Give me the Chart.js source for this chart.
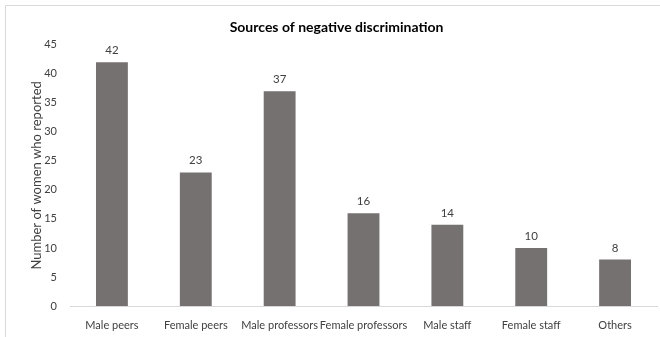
<!DOCTYPE html>
<html>
<head>
<meta charset="utf-8">
<script src="https://cdn.jsdelivr.net/npm/chart.js@4/dist/chart.umd.min.js"></script>
<style>
  html, body { margin: 0; padding: 0; background: #fff; }
  #wrap { position: relative; width: 660px; height: 337px; }
</style>
</head>
<body>
<div id="wrap"><canvas id="c" width="660" height="337"></canvas></div>
<script>
const categories = ["Male peers", "Female peers", "Male professors", "Female professors", "Male staff", "Female staff", "Others"];
const counts = [42, 23, 37, 16, 14, 10, 8];
const yTicks = [0, 5, 10, 15, 20, 25, 30, 35, 40, 45];

const FONT = "Lato, 'Open Sans', sans-serif";

// value labels drawn above each bar, plus the thin frame around the figure
const extras = {
  id: 'extras',
  afterDatasetsDraw(chart) {
    const ctx = chart.ctx;
    const meta = chart.getDatasetMeta(0);
    ctx.save();
    ctx.fillStyle = '#404040';
    ctx.font = '11.5px ' + FONT;
    ctx.textAlign = 'center';
    ctx.textBaseline = 'bottom';
    meta.data.forEach((bar, i) => {
      ctx.fillText(String(counts[i]), bar.x, bar.y - 6);
    });
    ctx.restore();
  },
  afterDraw(chart) {
    const ctx = chart.ctx;
    ctx.save();
    ctx.strokeStyle = '#d9d9d9';
    ctx.lineWidth = 1;
    ctx.beginPath();
    ctx.moveTo(5.5, 337);
    ctx.lineTo(5.5, 5.5);
    ctx.lineTo(660, 5.5);
    ctx.stroke();
    ctx.restore();
  }
};

new Chart(document.getElementById('c'), {
  type: 'bar',
  data: {
    labels: categories,
    datasets: [{
      data: counts,
      backgroundColor: '#767171',
      borderWidth: 0,
      barPercentage: 0.38,
      categoryPercentage: 1.0
    }]
  },
  options: {
    responsive: false,
    animation: false,
    layout: { padding: { left: 16, right: 3, top: 0, bottom: 0 } },
    plugins: {
      legend: { display: false },
      tooltip: { enabled: false },
      title: {
        display: true,
        text: 'Sources of negative discrimination',
        color: '#000',
        font: { family: FONT, size: 14, weight: 'bold', lineHeight: 1.2 },
        padding: { top: 19, bottom: 9 }
      }
    },
    scales: {
      x: {
        grid: { display: false, drawTicks: false },
        border: { color: '#d9d9d9', width: 1 },
        afterFit(scale) { scale.height = 31; },
        ticks: { color: '#404040', font: { family: FONT, size: 11 }, maxRotation: 0, autoSkip: false, padding: 13 }
      },
      y: {
        min: 0,
        max: 45,
        grid: { display: false, drawTicks: false },
        border: { display: false },
        afterFit(scale) { scale.width = 54; },
        afterBuildTicks(scale) { scale.ticks = yTicks.map(v => ({ value: v })); },
        ticks: { color: '#404040', font: { family: FONT, size: 11 }, padding: 13 },
        title: {
          display: true,
          text: 'Number of women who reported',
          color: '#404040',
          font: { family: FONT, size: 13 },
          padding: { top: 13, bottom: 0 }
        }
      }
    }
  },
  plugins: [extras]
});
</script>
</body>
</html>
